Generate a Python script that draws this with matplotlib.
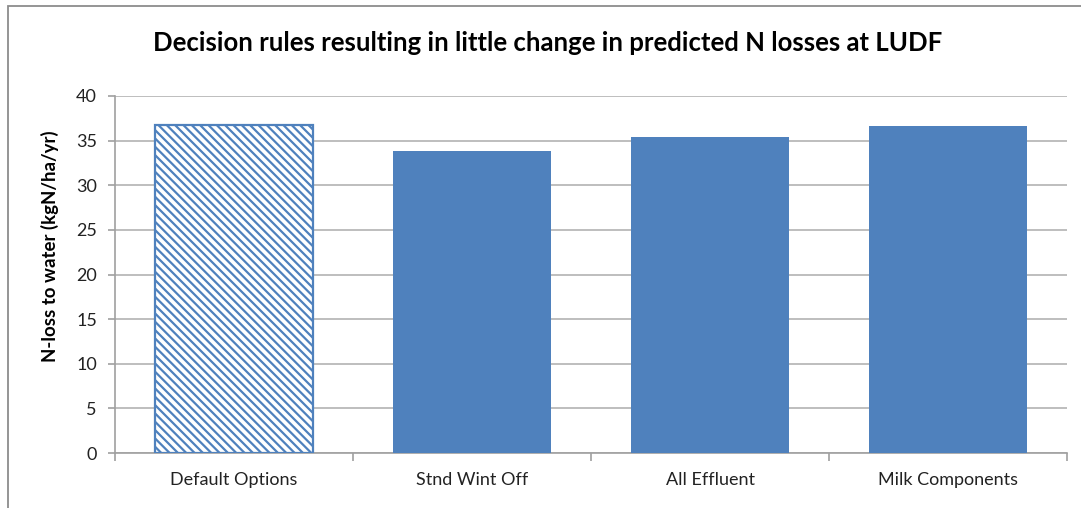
import matplotlib
matplotlib.use("Agg")
import matplotlib.pyplot as plt
from matplotlib.patches import Rectangle
from matplotlib.ticker import FixedLocator

categories = ["Default Options", "Stnd Wint Off", "All Effluent", "Milk Components"]
n_loss = [36.7, 33.8, 35.4, 36.6]
y_ticks = [0, 5, 10, 15, 20, 25, 30, 35, 40]

title = "Decision rules resulting in little change in predicted N losses at LUDF"
y_label = "N-loss to water (kgN/ha/yr)"

blue = "#4F81BD"
grid_grey = "#BEBEBE"
axis_grey = "#A0A0A0"

plt.rcParams["font.family"] = ["Lato", "DejaVu Sans"]
plt.rcParams["hatch.linewidth"] = 1.6
plt.rcParams["hatch.color"] = blue

fig = plt.figure(figsize=(10.81, 5.08), dpi=100)
fig.patch.set_facecolor("white")

# chart-area frame
fig.add_artist(Rectangle((8 / 1081, -0.05), 1.2, 1 - 6 / 508 + 0.05,
                         transform=fig.transFigure, fill=False,
                         edgecolor="#8C8C8C", linewidth=1.3))

ax = fig.add_axes([115 / 1081, 1 - 453 / 508, (1067 - 115) / 1081, (453 - 96) / 508])

x = list(range(len(categories)))
bars = ax.bar(x, n_loss, width=0.665, color=blue, edgecolor=blue, linewidth=0, zorder=3)
# first bar drawn as a hatched outline
b0 = bars[0]
b0.set_facecolor("white")
b0.set_hatch("\\\\\\\\")
b0.set_edgecolor(blue)
b0.set_linewidth(1.6)

ax.set_xlim(-0.5, len(categories) - 0.5)
ax.set_ylim(0, 40)
ax.set_yticks(y_ticks)
ax.yaxis.grid(True, color=grid_grey, linewidth=1.4, zorder=0)
ax.set_axisbelow(True)

ax.set_xticks(x)
ax.set_xticklabels(categories, fontsize=13, color="#222222")
ax.xaxis.set_minor_locator(FixedLocator([i - 0.5 for i in range(len(categories) + 1)]))
ax.tick_params(axis="x", which="major", length=0, pad=14)
ax.tick_params(axis="x", which="minor", length=6, width=1.2, color=axis_grey, direction="out")
ax.tick_params(axis="y", length=5, width=1.2, color=axis_grey, labelsize=13,
               labelcolor="#222222", pad=8)

for side in ("top", "right"):
    ax.spines[side].set_visible(False)
for side in ("left", "bottom"):
    ax.spines[side].set_color(axis_grey)
    ax.spines[side].set_linewidth(1.2)

fig.text(50 / 1081, 1 - 246 / 508, y_label, rotation=90, ha="center", va="center",
         fontsize=13.4, fontweight="bold", color="black")
fig.text(548 / 1081, 1 - 43 / 508, title, ha="center", va="center",
         fontsize=18.5, fontweight="bold", color="black")

fig.savefig("out.png", dpi=100, facecolor="white")
